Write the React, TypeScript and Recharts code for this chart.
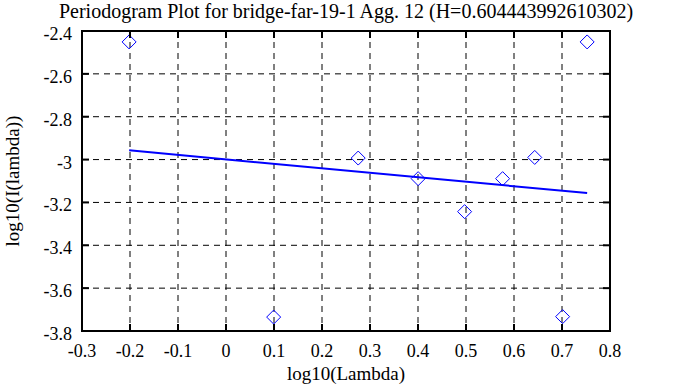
import React from 'react';
import { ScatterChart, Scatter, XAxis, YAxis, CartesianGrid, ReferenceArea } from 'recharts';

// periodogram points (log10 of frequency vs log10 of power)
const lambdaLog = [-0.2018, 0.0993, 0.2754, 0.4003, 0.4971, 0.5763, 0.6432, 0.7013, 0.7524];
const powerLog = [-2.451, -3.735, -2.993, -3.089, -3.243, -3.089, -2.99, -3.733, -2.451];

// least squares fit line end points
const fitX = [-0.2018, 0.7524];
const fitY = [-2.957, -3.156];

const xTicks = [-0.3, -0.2, -0.1, 0, 0.1, 0.2, 0.3, 0.4, 0.5, 0.6, 0.7, 0.8];
const yTicks = [-3.8, -3.6, -3.4, -3.2, -3, -2.8, -2.6, -2.4];

const TITLE = 'Periodogram Plot for bridge-far-19-1 Agg. 12 (H=0.604443992610302)';

const points = lambdaLog.map((x, i) => ({ x, y: powerLog[i] }));
const fit = fitX.map((x, i) => ({ x, y: fitY[i] }));

const W = 683;
const H = 387;
const Y_W = 82;
const X_H = 56;
const MARGIN = { top: 31, right: 73, left: 0, bottom: 0 };
const PLOT_W = W - Y_W - MARGIN.right;
const PLOT_H = H - MARGIN.top - X_H;
const FONT = 'Liberation Serif';
const TICK_LEN = 7;
const X_GAP = 14;
const Y_GAP = 10;

const XTick = (props: any) => {
  const { x, y, payload } = props;
  const axisY = y - X_GAP;
  return (
    <g>
      <line x1={x} x2={x} y1={axisY} y2={axisY - TICK_LEN} stroke="#000" strokeWidth={2} />
      <line x1={x} x2={x} y1={axisY - PLOT_H} y2={axisY - PLOT_H + TICK_LEN} stroke="#000" strokeWidth={2} />
      <text x={x} y={axisY + 26} textAnchor="middle" style={{ fontFamily: FONT, fontSize: 18 }} fill="#000">
        {payload.value}
      </text>
    </g>
  );
};

const YTick = (props: any) => {
  const { x, y, payload } = props;
  const axisX = x + Y_GAP;
  return (
    <g>
      <line x1={axisX} x2={axisX + TICK_LEN} y1={y} y2={y} stroke="#000" strokeWidth={2} />
      <line x1={axisX + PLOT_W - TICK_LEN} x2={axisX + PLOT_W} y1={y} y2={y} stroke="#000" strokeWidth={2} />
      <text x={x} y={y + 9} textAnchor="end" style={{ fontFamily: FONT, fontSize: 18 }} fill="#000">
        {payload.value}
      </text>
    </g>
  );
};

const Diamond = (props: any) => {
  const { cx, cy } = props;
  const r = 7;
  return (
    <path
      d={`M${cx},${cy - r}L${cx + r},${cy}L${cx},${cy + r}L${cx - r},${cy}Z`}
      fill="none"
      stroke="#0000ff"
      strokeWidth={1}
    />
  );
};

const NoDot = () => <g />;

export default function App() {
  return (
    <div style={{ position: 'absolute', left: 0, top: 0, width: W, height: H, background: '#fff', fontFamily: FONT }}>
      <div
        style={{
          position: 'absolute',
          top: 0,
          left: 0,
          width: 2 * (Y_W + PLOT_W / 2),
          textAlign: 'center',
          fontFamily: FONT,
          fontSize: 20,
          lineHeight: '22px',
          color: '#000',
          whiteSpace: 'nowrap',
        }}
      >
        {TITLE}
      </div>
      <ScatterChart width={W} height={H} margin={MARGIN}>
        <CartesianGrid stroke="#000" strokeDasharray="6 5" />
        <XAxis
          type="number"
          dataKey="x"
          domain={[-0.3, 0.8]}
          ticks={xTicks}
          allowDataOverflow
          height={X_H}
          axisLine={false}
          tickLine={false}
          tickSize={0}
          tickMargin={X_GAP}
          tick={XTick}
          interval={0}
          label={{
            value: 'log10(Lambda)',
            position: 'insideBottom',
            offset: 7,
            style: { fontFamily: FONT, fontSize: 19, fill: '#000' },
          }}
        />
        <YAxis
          type="number"
          dataKey="y"
          domain={[-3.8, -2.4]}
          ticks={yTicks}
          allowDataOverflow
          width={Y_W}
          axisLine={false}
          tickLine={false}
          tickSize={0}
          tickMargin={Y_GAP}
          tick={YTick}
          interval={0}
          label={{
            value: 'log10(I(lambda))',
            angle: -90,
            position: 'insideLeft',
            offset: 12,
            style: { fontFamily: FONT, fontSize: 19, fill: '#000', textAnchor: 'middle' },
          }}
        />
        <ReferenceArea
          x1={-0.3}
          x2={0.8}
          y1={-3.8}
          y2={-2.4}
          fill="none"
          fillOpacity={0}
          stroke="#000"
          strokeWidth={2}
          ifOverflow="visible"
        />
        <Scatter data={fit} fill="#0000ff" line={{ stroke: '#0000ff', strokeWidth: 2 }} shape={NoDot} isAnimationActive={false} />
        <Scatter data={points} fill="#0000ff" shape={Diamond} isAnimationActive={false} />
      </ScatterChart>
    </div>
  );
}
